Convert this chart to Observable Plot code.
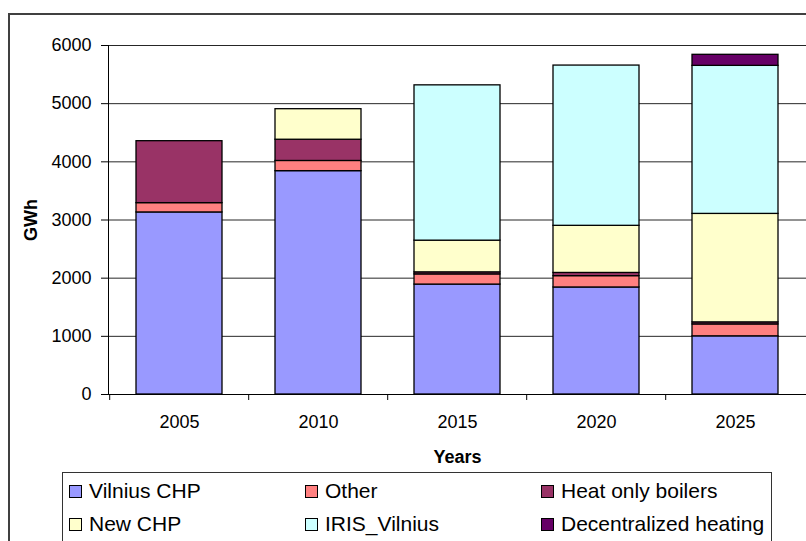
<!DOCTYPE html>
<html>
<head>
<meta charset="utf-8">
<script src="https://cdn.jsdelivr.net/npm/d3@7"></script>
<script src="https://cdn.jsdelivr.net/npm/@observablehq/plot@0.6"></script>
<style>
  html, body { margin: 0; padding: 0; background: #fff; overflow: hidden; width: 806px; height: 541px; }
  #frame { position: absolute; left: 8px; top: 13px; width: 1000px; height: 1000px; border: 2px solid #404040; box-sizing: border-box; }
  #chart { position: absolute; left: 0; top: 0; }
  #chart svg { display: block; }
  g[aria-label="y-axis label"] text, g[aria-label="x-axis label"] text { font-weight: bold; }
  #legend { position: absolute; left: 62px; top: 472px; width: 710px; height: 100px; border: 1px solid #333; box-sizing: border-box; background: #fff;
            font-family: "Liberation Sans", Arial, sans-serif; font-size: 21px; color: #000; }
  .item { position: absolute; height: 33px; line-height: 33px; white-space: nowrap; }
  .sw { position: absolute; left: 0; top: 11px; width: 11px; height: 11px; border: 1px solid #000; }
  .lab { position: absolute; left: 20px; top: 0; }
</style>
</head>
<body>
<div id="frame"></div>
<div id="chart"></div>
<div id="legend"></div>
<script>
const years = ["2005", "2010", "2015", "2020", "2025"];
const seriesNames = ["Vilnius CHP", "Other", "Heat only boilers", "New CHP", "IRIS_Vilnius", "Decentralized heating"];
const seriesColors = ["#9999FF", "#FF8080", "#993366", "#FFFFCC", "#CCFFFF", "#660066"];
const vilniusCHP    = [3130, 3840, 1890, 1840, 1000];
const other         = [160, 175, 175, 195, 205];
const heatOnly      = [1065, 365, 35, 55, 35];
const newCHP        = [0, 525, 545, 810, 1865];
const irisVilnius   = [0, 0, 2670, 2755, 2545];
const decentralized = [0, 0, 0, 0, 190];
const yTicks = [0, 1000, 2000, 3000, 4000, 5000, 6000];

const seriesValues = [vilniusCHP, other, heatOnly, newCHP, irisVilnius, decentralized];
const data = [];
years.forEach((yr, i) => {
  seriesNames.forEach((s, j) => {
    const v = seriesValues[j][i];
    if (v > 0) data.push({year: yr, series: s, value: v});
  });
});

const W = 806, H = 541, ML = 108, MR = 0;
const step = (W - ML - MR) / years.length;

const plot = Plot.plot({
  width: W,
  height: H,
  marginLeft: ML,
  marginRight: MR,
  marginTop: 45,
  marginBottom: 147,
  style: {fontSize: "18px", fontFamily: "'Liberation Sans', Arial, sans-serif", background: "transparent", color: "#000"},
  x: {domain: years, paddingInner: 0.38, paddingOuter: 0.19},
  y: {domain: [0, 6000]},
  color: {domain: seriesNames, range: seriesColors},
  marks: [
    Plot.gridY(yTicks, {stroke: "#000", strokeOpacity: 0.85, strokeWidth: 1}),
    Plot.barY(data, {x: "year", y: "value", fill: "series", stroke: "#000", strokeWidth: 1.3, order: seriesNames}),
    Plot.frame({anchor: "left", stroke: "#000"}),
    Plot.frame({anchor: "bottom", stroke: "#000"}),
    Plot.axisY(yTicks, {tickSize: 7, tickPadding: 10, tickFormat: d => String(d), label: "GWh", labelAnchor: "center", labelOffset: 84, labelArrow: "none", fontSize: 18}),
    Plot.axisX({tickSize: 0, tickPadding: 21, label: "Years", labelAnchor: "center", labelOffset: 68, labelArrow: "none"}),
    Plot.axisX({tickSize: 6, tickFormat: () => "", label: null, dx: -step / 2})
  ]
});
document.getElementById("chart").appendChild(plot);

// legend (HTML, placed inside the chart frame below the SVG plot area)
const legend = document.getElementById("legend");
const colLeft = [6, 242, 478];
seriesNames.forEach((s, j) => {
  const item = document.createElement("div");
  item.className = "item";
  item.style.left = colLeft[j % 3] + "px";
  item.style.top = (1 + Math.floor(j / 3) * 33) + "px";
  const sw = document.createElement("div");
  sw.className = "sw";
  sw.style.background = seriesColors[j];
  const lab = document.createElement("span");
  lab.className = "lab";
  lab.textContent = s;
  item.appendChild(sw);
  item.appendChild(lab);
  legend.appendChild(item);
});
</script>
</body>
</html>
